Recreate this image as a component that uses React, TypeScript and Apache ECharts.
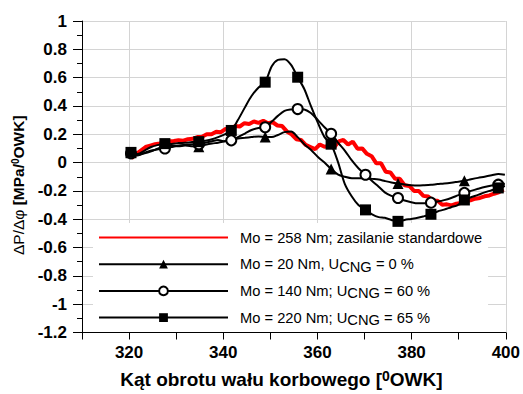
import React, { useEffect, useRef } from "react";
import * as echarts from "echarts";

// Crank angle grid shared by the three marker series (deg OWK)
const ANGLES = [
  320.4, 321.8, 323.3, 324.7, 326.2,
  327.6, 329.0, 330.5, 331.9, 333.4,
  334.8, 336.2, 337.6, 338.9, 340.3,
  341.7, 343.1, 344.6, 346.0, 347.5,
  348.9, 350.3, 351.6, 353.0, 354.4,
  355.8, 357.2, 358.6, 360.1, 361.5,
  362.9, 364.4, 365.8, 367.3, 368.7,
  370.2, 371.6, 373.0, 374.3, 375.7,
  377.1, 378.5, 379.9, 381.3, 382.7,
  384.1, 385.5, 386.9, 388.4, 389.8,
  391.2, 392.6, 394.1, 395.5, 397.0,
  398.4, 399.8,
];

// Mo = 20 Nm, UCNG = 0 %
const TRIANGLE = [
  0.07, 0.055, 0.065, 0.08, 0.1,
  0.115, 0.12, 0.115, 0.12, 0.115,
  0.111, 0.125, 0.135, 0.14, 0.15,
  0.16, 0.17, 0.175, 0.18, 0.185,
  0.181, 0.18, 0.195, 0.215, 0.22,
  0.18, 0.13, 0.09, 0.04, 0.0,
  -0.045, -0.085, -0.1, -0.11, -0.11,
  -0.11, -0.115, -0.12, -0.13, -0.14,
  -0.148, -0.155, -0.16, -0.162, -0.16,
  -0.157, -0.152, -0.148, -0.142, -0.135,
  -0.128, -0.118, -0.108, -0.1, -0.09,
  -0.08, -0.086,
];

// Mo = 140 Nm, UCNG = 60 %
const CIRCLE = [
  0.065, 0.05, 0.07, 0.085, 0.095,
  0.1, 0.11, 0.12, 0.125, 0.13,
  0.13, 0.14, 0.15, 0.16, 0.15,
  0.157, 0.18, 0.205, 0.23, 0.245,
  0.25, 0.29, 0.33, 0.365, 0.375,
  0.378, 0.375, 0.35, 0.3, 0.25,
  0.204, 0.14, 0.085, 0.015, -0.04,
  -0.086, -0.13, -0.17, -0.21, -0.235,
  -0.25, -0.268, -0.28, -0.288, -0.288,
  -0.283, -0.275, -0.265, -0.25, -0.232,
  -0.214, -0.2, -0.185, -0.172, -0.162,
  -0.156, -0.15,
];

// Mo = 220 Nm, UCNG = 65 %
const SQUARE = [
  0.072, 0.06, 0.085, 0.11, 0.125,
  0.134, 0.132, 0.138, 0.14, 0.145,
  0.148, 0.155, 0.165, 0.18, 0.2,
  0.227, 0.3, 0.39, 0.47, 0.53,
  0.568, 0.68, 0.725, 0.73, 0.69,
  0.603, 0.52, 0.4, 0.28, 0.18,
  0.13, 0.0, -0.15, -0.24, -0.3,
  -0.334, -0.365, -0.385, -0.39, -0.405,
  -0.415, -0.405, -0.398, -0.39, -0.378,
  -0.365, -0.345, -0.332, -0.315, -0.3,
  -0.264, -0.245, -0.228, -0.21, -0.195,
  -0.179, -0.165,
];

// Mo = 258 Nm; zasilanie standardowe
const RED_ANGLES = [
  320.5, 321.5, 322.5, 323.5, 324.5, 325.5, 326.5, 327.5, 328.5, 329.5,
  330.5, 331.5, 332.5, 333.5, 334.5, 335.5, 336.5, 337.5, 338.5, 339.5,
  340.5, 341.5, 342.5, 343.5, 344.5, 345.5, 346.5, 347.5, 348.5, 349.5,
  350.5, 351.5, 352.5, 353.5, 354.5, 355.5, 356.5, 357.5, 358.5, 359.5,
  360.5, 361.5, 362.5, 363.5, 364.5, 365.5, 366.5, 367.5, 368.5, 369.5,
  370.5, 371.5, 372.5, 373.5, 374.5, 375.5, 376.5, 377.5, 378.5, 379.5,
  380.5, 381.5, 382.5, 383.5, 384.5, 385.5, 386.5, 387.5, 388.5, 389.5,
  390.5, 391.5, 392.5, 393.5, 394.5, 395.5, 396.5, 397.5, 398.5, 399.5,
];
const RED = [
  0.03, 0.06, 0.085, 0.11, 0.12, 0.13, 0.135, 0.145, 0.15, 0.152,
  0.158, 0.155, 0.165, 0.168, 0.18, 0.183, 0.2, 0.2, 0.218, 0.215,
  0.238, 0.235, 0.258, 0.255, 0.278, 0.272, 0.29, 0.28, 0.295, 0.278,
  0.285, 0.262, 0.258, 0.22, 0.2, 0.165, 0.16, 0.125, 0.11, 0.095,
  0.128, 0.112, 0.118, 0.105, 0.15, 0.16, 0.128, 0.148, 0.098, 0.1,
  0.062, 0.045, -0.005, -0.005, -0.065, -0.07, -0.115, -0.115, -0.16, -0.165,
  -0.2, -0.2, -0.235, -0.24, -0.27, -0.27, -0.298, -0.295, -0.302, -0.29,
  -0.285, -0.272, -0.266, -0.255, -0.25, -0.238, -0.232, -0.22, -0.21, -0.19,
];

const SERIES_NAMES = [
  "Mo = 258 Nm; zasilanie standardowe",
  "Mo = 20 Nm, UCNG = 0 %",
  "Mo = 140 Nm; UCNG = 60 %",
  "Mo = 220 Nm; UCNG = 65 %",
];
const LEGEND_RICH_LABELS = [
  "Mo = 258 Nm; zasilanie standardowe",
  "Mo = 20 Nm, U{s|CNG} = 0 %",
  "Mo = 140 Nm; U{s|CNG} = 60 %",
  "Mo = 220 Nm; U{s|CNG} = 65 %",
];

const X_MIN = 310;
const X_MAX = 400;
const Y_MIN = -1.2;
const Y_MAX = 1;

const FONT = "'Liberation Sans', Arial, sans-serif";

function withMarkers(values: number[], step: number) {
  return ANGLES.map((a, i) =>
    i % step === 0 && i < ANGLES.length - 1
      ? { value: [a, values[i]] }
      : { value: [a, values[i]], symbol: "none" }
  );
}

export default function App() {
  const ref = useRef<HTMLDivElement>(null);
  useEffect(() => {
    if (!ref.current) return;
    const chart = echarts.init(ref.current, undefined, { renderer: "svg" });
    const grid = "#d4d4d4";
    chart.setOption({
      animation: false,
      backgroundColor: "#fff",
      grid: { left: 82, right: 16, top: 21, bottom: 57, containLabel: false },
      legend: {
        orient: "vertical",
        left: 93,
        top: 223,
        padding: [3, 6, 3, 5],
        backgroundColor: "#fff",
        itemWidth: 129,
        itemHeight: 11,
        itemGap: 3.7,
        selectedMode: false,
        data: [
          { name: SERIES_NAMES[0], itemStyle: { opacity: 0 } },
          { name: SERIES_NAMES[1] },
          { name: SERIES_NAMES[2] },
          { name: SERIES_NAMES[3] },
        ],
        formatter: (name: string) => LEGEND_RICH_LABELS[SERIES_NAMES.indexOf(name)],
        textStyle: {
          fontFamily: FONT,
          fontSize: 14.7,
          color: "#000",
          lineHeight: 23,
          padding: [0, 0, 0, 7],
          rich: {
            s: { fontFamily: FONT, fontSize: 14.7, color: "#000", lineHeight: 18, padding: [5, 0, 0, 0] },
          },
        },
      },
      xAxis: {
        type: "value",
        min: X_MIN,
        max: X_MAX,
        interval: 10,
        name: "Kąt obrotu wału korbowego [{sup|0}OWK]",
        nameLocation: "middle",
        nameGap: 36,
        nameTextStyle: {
          fontFamily: FONT,
          fontSize: 19,
          fontWeight: "bold",
          color: "#000",
          padding: [0, 25, 0, 0],
          rich: {
            sup: { fontFamily: FONT, fontSize: 14, fontWeight: "bold", color: "#000", padding: [0, 0, 8, 0] },
          },
        },
        axisLine: { show: true, onZero: false, lineStyle: { color: "#000", width: 1 } },
        axisTick: { show: true, length: 7, lineStyle: { color: "#000" } },
        axisLabel: {
          margin: 11,
          fontFamily: FONT,
          fontSize: 17,
          fontWeight: "bold",
          color: "#000",
          formatter: (v: number) => (v % 20 === 0 ? String(v) : ""),
        },
        splitLine: { show: true, lineStyle: { color: ["rgba(0,0,0,0)", grid], width: 1 } },
      },
      yAxis: {
        type: "value",
        min: Y_MIN,
        max: Y_MAX,
        interval: 0.2,
        name: "{a|ΔP/Δφ} {b|[MPa/}{sup|0}{b|OWK]}",
        nameLocation: "middle",
        nameGap: 48,
        nameTextStyle: {
          fontFamily: FONT,
          fontSize: 15.5,
          color: "#000",
          padding: [0, 17, 0, 0],
          rich: {
            a: { fontFamily: FONT, fontSize: 15.5, fontWeight: "normal", color: "#000" },
            b: { fontFamily: FONT, fontSize: 15.5, fontWeight: "bold", color: "#000" },
            sup: { fontFamily: FONT, fontSize: 10, fontWeight: "bold", color: "#000", padding: [0, 0, 7, 0] },
          },
        },
        axisLine: { show: true, onZero: false, lineStyle: { color: "#000", width: 1 } },
        axisTick: { show: true, length: 9, lineStyle: { color: "#000" } },
        minorTick: { show: true, splitNumber: 2, length: 5, lineStyle: { color: "#000" } },
        axisLabel: {
          margin: 15,
          fontFamily: FONT,
          fontSize: 17,
          fontWeight: "bold",
          color: "#000",
          formatter: (v: number) => String(Math.round(v * 10) / 10),
        },
        splitLine: { show: true, lineStyle: { color: grid, width: 1 } },
      },
      series: [
        {
          name: SERIES_NAMES[0],
          type: "line",
          data: RED_ANGLES.map((a, i) => [a, RED[i]]),
          symbol: "none",
          color: "#ff0000",
          lineStyle: { color: "#ff0000", width: 4 },
          z: 2,
        },
        {
          name: SERIES_NAMES[1],
          type: "line",
          data: withMarkers(TRIANGLE, 10),
          symbol: "triangle",
          symbolSize: 11,
          showAllSymbol: true,
          smooth: 0.3,
          color: "#000",
          itemStyle: { color: "#000" },
          lineStyle: { color: "#000", width: 2 },
          z: 3,
        },
        {
          name: SERIES_NAMES[2],
          type: "line",
          data: withMarkers(CIRCLE, 5),
          symbol: "emptyCircle",
          symbolSize: 10,
          showAllSymbol: true,
          smooth: 0.3,
          color: "#000",
          itemStyle: { color: "#000", borderWidth: 1.5 },
          lineStyle: { color: "#000", width: 2 },
          z: 4,
        },
        {
          name: SERIES_NAMES[3],
          type: "line",
          data: withMarkers(SQUARE, 5),
          symbol: "rect",
          symbolSize: 11,
          showAllSymbol: true,
          smooth: 0.3,
          color: "#000",
          itemStyle: { color: "#000" },
          lineStyle: { color: "#000", width: 2 },
          z: 5,
        },
      ],
    });
    return () => chart.dispose();
  }, []);
  return (
    <div
      ref={ref}
      style={{ position: "fixed", left: 0, top: 0, width: 523, height: 394, background: "#fff" }}
    />
  );
}
